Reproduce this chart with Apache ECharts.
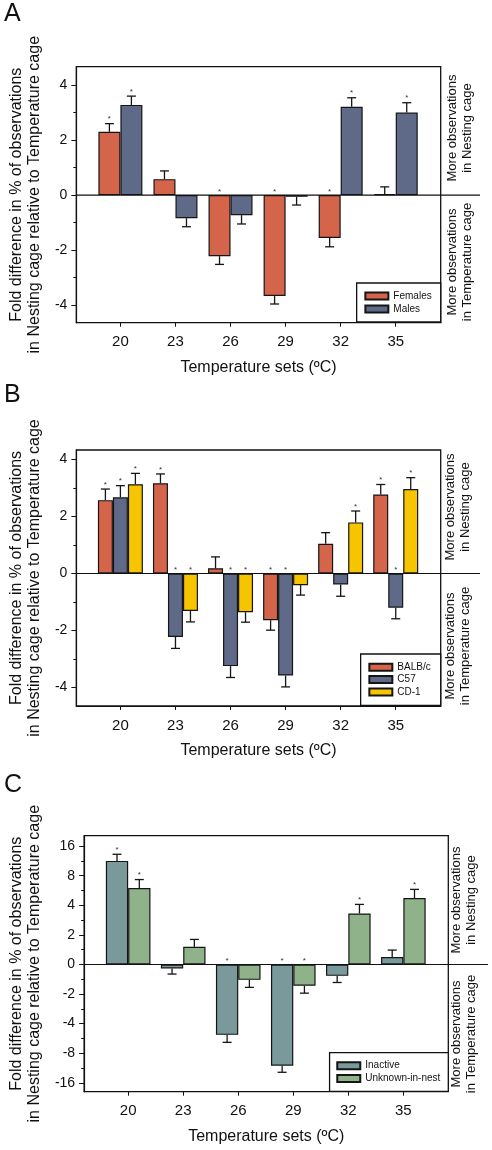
<!DOCTYPE html>
<html><head><meta charset="utf-8">
<script src="https://cdn.jsdelivr.net/npm/echarts@6/dist/echarts.min.js"></script>
<style>html,body{margin:0;padding:0;background:#fff}#c{width:492px;height:1150px}</style>
</head><body><div id="c"></div>
<script>
// ---------- DATA ----------
const temps = [20, 23, 26, 29, 32, 35];
const xTickLabels = [20, 23, 26, 29, 32, 35];
const yTicksAB = [-4, -2, 0, 2, 4];
const yMinorAB = [-3, -1, 1, 3];
const yTicksC = [-16, -8, -4, -2, 0, 2, 4, 8, 16];

// Panel A
const femalesA = [2.30, 0.58, -2.22, -3.67, -1.56, 0.04];
const femalesErrA = [0.30, 0.30, 0.30, 0.29, 0.32, 0.26];
const femalesSigA = [1, 0, 1, 1, 1, 0];
const malesA = [3.28, -0.84, -0.73, -0.06, 3.21, 3.00];
const malesErrA = [0.32, 0.31, 0.32, 0.30, 0.33, 0.36];
const malesSigA = [1, 0, 0, 0, 1, 1];

// Panel B
const balbB = [2.57, 3.16, 0.18, -1.64, 1.04, 2.77];
const balbErrB = [0.39, 0.33, 0.40, 0.35, 0.39, 0.35];
const balbSigB = [1, 1, 0, 1, 0, 1];
const c57B = [2.67, -2.23, -3.25, -3.58, -0.39, -1.20];
const c57ErrB = [0.41, 0.40, 0.40, 0.40, 0.41, 0.39];
const c57SigB = [1, 1, 1, 1, 0, 1];
const cd1B = [3.13, -1.32, -1.36, -0.41, 1.79, 2.96];
const cd1ErrB = [0.38, 0.38, 0.35, 0.35, 0.40, 0.40];
const cd1SigB = [1, 1, 1, 0, 1, 1];

// Panel C (real units, drawn on a symmetric log2 scale)
const inactiveC = [11.3, -0.27, -5.2, -10.7, -0.77, 0.5];
const inactiveErrC = [1.9, 0.38, 1.0, 1.8, 0.45, 0.47];
const inactiveSigC = [1, 0, 1, 1, 0, 0];
const unknownC = [6.0, 1.19, -1.04, -1.44, 3.3, 4.73];
const unknownErrC = [1.3, 0.5, 0.51, 0.5, 0.78, 1.07];
const unknownSigC = [1, 0, 0, 1, 1, 1];

// ---------- STYLE ----------
const FONT = "'Liberation Sans', Arial, sans-serif";
const colOrange = '#D4654B', colSlate = '#5F6A88', colGold = '#F6C500', colTeal = '#7A999A', colSage = '#8FB28B';
const lin = v => v;
const symlog = v => { const a = Math.abs(v); const t = a <= 2 ? a / 2 : Math.log2(a); return v < 0 ? -t : t; };

const grids = [
  { left: 76, top: 66.7, width: 364.7, height: 256 },
  { left: 76, top: 450, width: 364.7, height: 256 },
  { left: 83.3, top: 835.7, width: 365, height: 256 }
];
const yRanges = [[-4.64, 4.67], [-4.65, 4.33], [-4.3, 4.35]];

const xAxes = [], yAxes = [];
grids.forEach((g, gi) => {
  xAxes.push({
    type: 'value', gridIndex: gi, min: 17.6, max: 37.45, position: 'bottom',
    axisLine: { show: true, onZero: false, lineStyle: { color: '#111', width: 1.2 } },
    axisTick: { show: true, length: 4, customValues: xTickLabels, lineStyle: { color: '#111' } },
    axisLabel: { customValues: xTickLabels, fontSize: 15, color: '#111', fontFamily: FONT, margin: 12 },
    splitLine: { show: false },
    name: 'Temperature sets (ºC)', nameLocation: 'middle', nameGap: 37,
    nameTextStyle: { fontSize: 16, color: '#111', fontFamily: FONT }
  });
  const isC = gi === 2;
  const majors = isC ? yTicksC.map(symlog) : yTicksAB;
  const minors = isC ? [-3.5, -2.5, -1.5, -0.5, 0.5, 1.5, 2.5, 3.5] : yMinorAB;
  yAxes.push({
    type: 'value', gridIndex: gi, min: yRanges[gi][0], max: yRanges[gi][1], position: 'left',
    axisLine: { show: true, lineStyle: { color: '#111', width: 1.2 } },
    axisTick: { show: true, length: 5, customValues: majors, lineStyle: { color: '#111' } },
    axisLabel: {
      customValues: majors, fontSize: 14, color: '#111', fontFamily: FONT, margin: 9,
      formatter: isC ? (v => { const i = majors.findIndex(m => Math.abs(m - v) < 1e-6); return i >= 0 ? String(yTicksC[i]) : ''; }) : (v => String(v))
    },
    splitLine: { show: false },
    name: 'Fold difference in % of observations\nin Nesting cage relative to Temperature cage',
    nameLocation: 'middle', nameGap: isC ? 39 : 32, nameRotate: 90,
    nameTextStyle: { fontSize: 16, lineHeight: 18, color: '#111', fontFamily: FONT, align: 'center' }
  });
  yAxes.push({
    type: 'value', gridIndex: gi, min: yRanges[gi][0], max: yRanges[gi][1], position: 'left', offset: 0,
    axisLine: { show: false },
    axisTick: { show: true, length: 3, customValues: minors, lineStyle: { color: '#111' } },
    axisLabel: { show: false }, splitLine: { show: false }
  });
});

function barSeries(name, gi, vals, tf, color, bw) {
  return {
    type: 'bar', name, xAxisIndex: gi, yAxisIndex: gi * 2,
    data: temps.map((t, i) => [t, tf(vals[i])]),
    barWidth: bw, barGap: '0%',
    itemStyle: { color, borderColor: '#151515', borderWidth: 1.2 },
    z: 2
  };
}
function errSeries(gi, vals, errs, sigs, tf, idx, n, bw) {
  return {
    type: 'custom', xAxisIndex: gi, yAxisIndex: gi * 2, z: 3, clip: false,
    data: temps.map((t, i) => [t, vals[i], errs[i], sigs[i]]),
    renderItem(params, api) {
      const x = api.value(0), v = api.value(1), e = api.value(2), s = api.value(3);
      const dir = v >= 0 ? 1 : -1;
      const off = (idx - (n - 1) / 2) * bw;
      const p0 = api.coord([x, tf(v)]);
      const p1 = api.coord([x, tf(v + dir * e)]);
      const pz = api.coord([x, 0]);
      const cx = p0[0] + off;
      const ls = { stroke: '#151515', lineWidth: 1.3 };
      const ch = [
        { type: 'line', shape: { x1: cx, y1: p0[1], x2: cx, y2: p1[1] }, style: ls },
        { type: 'line', shape: { x1: cx - 4.5, y1: p1[1], x2: cx + 4.5, y2: p1[1] }, style: ls }
      ];
      if (s) {
        const ty = dir > 0 ? p1[1] - 4.5 : pz[1] - 3.5;
        ch.push({ type: 'text', style: { text: '*', x: cx, y: ty, align: 'center', verticalAlign: 'middle', fontSize: 8, fill: '#333', fontFamily: FONT } });
      }
      return { type: 'group', children: ch };
    }
  };
}

const series = [
  barSeries('Females', 0, femalesA, lin, colOrange, 22),
  barSeries('Males', 0, malesA, lin, colSlate, 22),
  errSeries(0, femalesA, femalesErrA, femalesSigA, lin, 0, 2, 22),
  errSeries(0, malesA, malesErrA, malesSigA, lin, 1, 2, 22),
  barSeries('BALB/c', 1, balbB, lin, colOrange, 15),
  barSeries('C57', 1, c57B, lin, colSlate, 15),
  barSeries('CD-1', 1, cd1B, lin, colGold, 15),
  errSeries(1, balbB, balbErrB, balbSigB, lin, 0, 3, 15),
  errSeries(1, c57B, c57ErrB, c57SigB, lin, 1, 3, 15),
  errSeries(1, cd1B, cd1ErrB, cd1SigB, lin, 2, 3, 15),
  barSeries('Inactive', 2, inactiveC, symlog, colTeal, 22.3),
  barSeries('Unknown-in-nest', 2, unknownC, symlog, colSage, 22.3),
  errSeries(2, inactiveC, inactiveErrC, inactiveSigC, symlog, 0, 2, 22.3),
  errSeries(2, unknownC, unknownErrC, unknownSigC, symlog, 1, 2, 22.3)
];

function legend(names, right, top, pad, gap) {
  return {
    data: names, orient: 'vertical', right, top, icon: 'rect', itemWidth: 23, itemHeight: 7, itemGap: gap,
    padding: pad, borderColor: '#111', borderWidth: 1.3, backgroundColor: '#fff', selectedMode: false,
    textStyle: { fontSize: 10, lineHeight: 12, color: '#111', fontFamily: FONT }, z: 6
  };
}

const chart = echarts.init(document.getElementById('c'), null, { renderer: 'canvas' });
chart.setOption({
  animation: false,
  backgroundColor: '#fff',
  grid: grids.map(g => Object.assign({ show: true, borderColor: '#111', borderWidth: 1.3, backgroundColor: 'transparent', containLabel: false }, g)),
  xAxis: xAxes, yAxis: yAxes,
  legend: [
    legend(['Females', 'Males'], 51.3, 283, [7, 9, 7, 7.7], 1),
    legend(['BALB/c', 'C57', 'CD-1'], 51.3, 654, [7.3, 10, 7.5, 7.7], 0.3),
    legend(['Inactive', 'Unknown-in-nest'], 43.7, 1052.7, [7, 8, 7, 6.7], 0.7)
  ],
  series
});

// annotations
const gfx = [];
const letters = [['A', 0], ['B', 381], ['C', 771]];
letters.forEach(([t, y]) => gfx.push({ type: 'text', x: 4, y: y + 2, style: { text: t, fontSize: 25, fill: '#111', fontFamily: FONT } }));
const zeroEnd = [480, 480, 488];
const rightX = [459.5, 458, 464];
const upperC = [128, 507, 900];
const lowerC = [262, 646, 1034];
grids.forEach((g, gi) => {
  const p = chart.convertToPixel({ xAxisIndex: gi, yAxisIndex: gi * 2 }, [17.6, 0]);
  gfx.push({ type: 'line', shape: { x1: g.left, y1: p[1], x2: zeroEnd[gi], y2: p[1] }, style: { stroke: '#111', lineWidth: 1.1 }, z: 5 });
  gfx.push({ type: 'text', x: rightX[gi], y: upperC[gi], rotation: Math.PI / 2,
    style: { text: 'More observations\nin Nesting cage', align: 'center', verticalAlign: 'middle', fontSize: 13, lineHeight: 15, fill: '#111', fontFamily: FONT } });
  gfx.push({ type: 'text', x: rightX[gi], y: lowerC[gi], rotation: Math.PI / 2,
    style: { text: 'More observations\nin Temperature cage', align: 'center', verticalAlign: 'middle', fontSize: 13, lineHeight: 15, fill: '#111', fontFamily: FONT } });
});
chart.setOption({ graphic: gfx });
</script>
</body></html>
